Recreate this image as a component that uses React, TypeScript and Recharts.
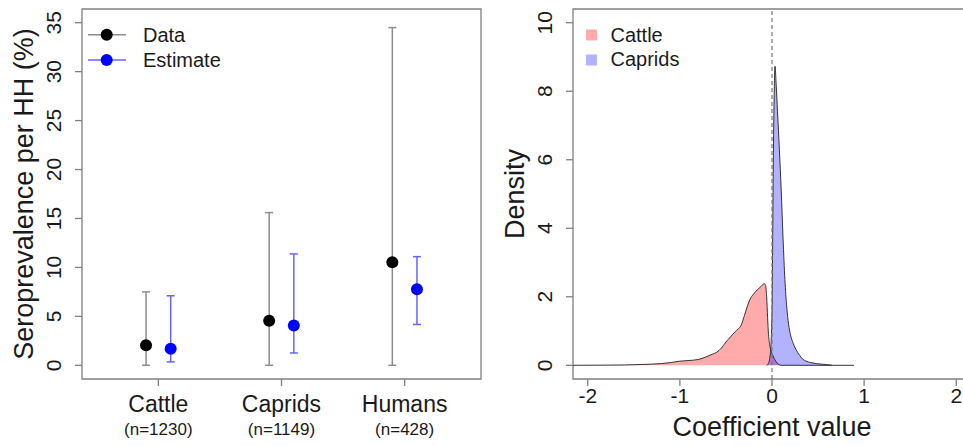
import React from 'react';
import {
  ComposedChart,
  Scatter,
  ErrorBar,
  Area,
  XAxis,
  YAxis,
  ReferenceArea,
  ReferenceLine,
  Label,
} from 'recharts';

const FONT = '"Liberation Sans", Arial, Helvetica, sans-serif';
const TEXT = '#1a1a1a';
const FRAME = '#808080';

// ---- left panel: seroprevalence per household ----
const groups = ['Cattle', 'Caprids', 'Humans'];
const groupN = ['(n=1230)', '(n=1149)', '(n=428)'];
const dataMean = [2.05, 4.55, 10.53];
const dataLow = [0, 0, 0];
const dataHigh = [7.5, 15.6, 34.5];
const estMean = [1.7, 4.07, 7.76];
const estLow = [0.35, 1.26, 4.17];
const estHigh = [7.1, 11.38, 11.1];
const leftYTicks = [0, 5, 10, 15, 20, 25, 30, 35];

// ---- right panel: posterior density of the coefficient ----
const cattleX = [
  -2.16, -1.8, -1.6, -1.4, -1.2, -1.1, -1.0, -0.9, -0.8, -0.72, -0.65, -0.6, -0.55, -0.5,
  -0.45, -0.4, -0.37, -0.33, -0.3, -0.27, -0.24, -0.2, -0.16, -0.12, -0.085, -0.07, -0.058,
  -0.048, -0.038, -0.025, -0.01, 0.01, 0.04, 0.07, 0.1, 0.5, 0.89,
];
const cattleDensity = [
  0, 0.005, 0.01, 0.025, 0.05, 0.08, 0.12, 0.14, 0.17, 0.24, 0.32, 0.38, 0.5, 0.68,
  0.83, 0.98, 1.05, 1.2, 1.45, 1.7, 1.92, 2.08, 2.2, 2.3, 2.38, 2.33, 2.0,
  1.4, 0.9, 0.6, 0.42, 0.28, 0.12, 0.03, 0, 0, 0,
];
const capridX = [
  -0.06, -0.04, -0.02, 0, 0.006, 0.013, 0.022, 0.033, 0.045, 0.06, 0.08, 0.1, 0.12, 0.14,
  0.16, 0.18, 0.2, 0.23, 0.26, 0.3, 0.33, 0.37, 0.42, 0.48, 0.55, 0.6, 0.65,
];
const capridDensity = [
  0, 0.05, 0.3, 1.5, 3.2, 5.6, 7.6, 8.73, 8.2, 7.4, 6.3, 5.1, 3.7, 2.5,
  1.7, 1.2, 0.9, 0.64, 0.46, 0.29, 0.19, 0.12, 0.08, 0.05, 0.03, 0.02, 0,
];
const rightXTicks = [-2, -1, 0, 1, 2];
const rightYTicks = [0, 2, 4, 6, 8, 10];

const dataPoints = groups.map((g, i) => ({
  x: i + 1 - 0.1,
  y: dataMean[i],
  err: [dataMean[i] - dataLow[i], dataHigh[i] - dataMean[i]],
}));
const estPoints = groups.map((g, i) => ({
  x: i + 1 + 0.1,
  y: estMean[i],
  err: [estMean[i] - estLow[i], estHigh[i] - estMean[i]],
}));

type Row = { x: number; cattle?: number; caprids?: number };
const densityRows: Row[] = (() => {
  const m = new Map<number, Row>();
  cattleX.forEach((x, i) => {
    const r = m.get(x) ?? { x };
    r.cattle = cattleDensity[i];
    m.set(x, r);
  });
  capridX.forEach((x, i) => {
    const r = m.get(x) ?? { x };
    r.caprids = capridDensity[i];
    m.set(x, r);
  });
  return [...m.values()].sort((a, b) => a.x - b.x);
})();

const RotatedYTick = (props: any) => {
  const { x, y, payload } = props;
  const cx = x - 19;
  return (
    <text
      x={cx}
      y={y}
      transform={`rotate(-90 ${cx} ${y})`}
      textAnchor="middle"
      dominantBaseline="central"
      fontSize={21}
      fontFamily={FONT}
      fill={TEXT}
    >
      {payload.value}
    </text>
  );
};

const GroupTick = (props: any) => {
  const { x, y, payload } = props;
  const i = Math.round(payload.value) - 1;
  return (
    <g fontFamily={FONT} fill={TEXT}>
      <text x={x} y={y + 24} textAnchor="middle" fontSize={23}>{groups[i]}</text>
      <text x={x} y={y + 47} textAnchor="middle" fontSize={17}>{groupN[i]}</text>
    </g>
  );
};

const NumberTick = (props: any) => {
  const { x, y, payload } = props;
  return (
    <text x={x} y={y + 15} textAnchor="middle" fontSize={21} fontFamily={FONT} fill={TEXT}>
      {payload.value}
    </text>
  );
};

const yTitle = (text: string) => (props: any) => {
  const vb = props.viewBox || { x: 0, y: 9, width: 82, height: 370 };
  const bx = vb.x + vb.width - 49;
  const cy = vb.y + vb.height / 2;
  return (
    <text
      x={bx}
      y={cy}
      transform={`rotate(-90 ${bx} ${cy})`}
      textAnchor="middle"
      fontSize={27}
      fontFamily={FONT}
      fill={TEXT}
    >
      {text}
    </text>
  );
};

const xTitle = (text: string) => (props: any) => {
  const vb = props.viewBox || { x: 93, y: 379, width: 398, height: 67 };
  return (
    <text
      x={vb.x + vb.width / 2}
      y={vb.y + 57}
      textAnchor="middle"
      fontSize={27}
      fontFamily={FONT}
      fill={TEXT}
    >
      {text}
    </text>
  );
};

const dot = (color: string) => (props: any) =>
  <circle cx={props.cx} cy={props.cy} r={6} fill={color} />;

const Legends = () => (
  <svg
    width={963}
    height={446}
    style={{ position: 'absolute', left: 0, top: 0, pointerEvents: 'none' }}
    fontFamily={FONT}
  >
    <line x1={88} x2={126} y1={34.7} y2={34.7} stroke="#8c8c8c" strokeWidth={1.5} />
    <circle cx={106.7} cy={34.7} r={6} fill="#000" />
    <line x1={88} x2={126} y1={60} y2={60} stroke="#6464ff" strokeWidth={1.5} />
    <circle cx={106.7} cy={60} r={6} fill="#0000ff" />
    <text x={143} y={41.7} fontSize={20} fill={TEXT}>Data</text>
    <text x={143} y={67} fontSize={20} fill={TEXT}>Estimate</text>

    <rect x={586} y={29.5} width={11} height={11} fill="#ff0000" fillOpacity={0.33} />
    <rect x={586} y={54.5} width={11} height={11} fill="#0000ff" fillOpacity={0.3} />
    <text x={610.5} y={41.5} fontSize={20} fill={TEXT}>Cattle</text>
    <text x={610.5} y={66} fontSize={20} fill={TEXT}>Caprids</text>
  </svg>
);

export default function App() {
  return (
    <div
      style={{
        position: 'fixed',
        left: 0,
        top: 0,
        width: 963,
        height: 446,
        overflow: 'hidden',
        background: '#fff',
      }}
    >
      <div style={{ position: 'absolute', left: 0, top: 0 }}>
        <ComposedChart width={485} height={446} margin={{ top: 9, right: 4, bottom: 0, left: 0 }}>
          <XAxis
            type="number"
            dataKey="x"
            domain={[0.38, 3.62]}
            ticks={[1, 2, 3]}
            allowDataOverflow
            axisLine={false}
            tickSize={7}
            tickLine={{ stroke: FRAME, strokeWidth: 1.3 }}
            tick={GroupTick}
            interval={0}
            height={67}
          />
          <YAxis
            type="number"
            dataKey="y"
            domain={[-1.4, 36.4]}
            ticks={leftYTicks}
            allowDataOverflow
            axisLine={false}
            tickSize={7}
            tickLine={{ stroke: FRAME, strokeWidth: 1.3 }}
            tick={RotatedYTick}
            interval={0}
            width={82}
          >
            <Label content={yTitle('Seroprevalence per HH (%)')} />
          </YAxis>
          <ReferenceArea
            x1={0.38}
            x2={3.62}
            y1={-1.4}
            y2={36.4}
            fill="none"
            stroke={FRAME}
            strokeWidth={1.3}
            ifOverflow="visible"
          />
          <Scatter data={dataPoints} shape={dot('#000000')} isAnimationActive={false}>
            <ErrorBar dataKey="err" direction="y" width={4} stroke="#8c8c8c" strokeWidth={1.5} />
          </Scatter>
          <Scatter data={estPoints} shape={dot('#0000ff')} isAnimationActive={false}>
            <ErrorBar dataKey="err" direction="y" width={4} stroke="#6464ff" strokeWidth={1.5} />
          </Scatter>
        </ComposedChart>
      </div>

      <div style={{ position: 'absolute', left: 480, top: 0 }}>
        <ComposedChart
          width={494}
          height={446}
          data={densityRows}
          margin={{ top: 9, right: 3, bottom: 0, left: 0 }}
        >
          <XAxis
            type="number"
            dataKey="x"
            domain={[-2.16, 2.16]}
            ticks={rightXTicks}
            allowDataOverflow
            axisLine={false}
            tickSize={7}
            tickLine={{ stroke: FRAME, strokeWidth: 1.3 }}
            tick={NumberTick}
            interval={0}
            height={67}
          >
            <Label content={xTitle('Coefficient value')} />
          </XAxis>
          <YAxis
            type="number"
            domain={[-0.4, 10.4]}
            ticks={rightYTicks}
            allowDataOverflow
            axisLine={false}
            tickSize={7}
            tickLine={{ stroke: FRAME, strokeWidth: 1.3 }}
            tick={RotatedYTick}
            interval={0}
            width={93}
          >
            <Label content={yTitle('Density')} />
          </YAxis>
          <ReferenceArea
            x1={-2.16}
            x2={2.16}
            y1={-0.4}
            y2={10.4}
            fill="none"
            stroke={FRAME}
            strokeWidth={1.3}
            ifOverflow="visible"
          />
          <Area
            dataKey="cattle"
            type="monotone"
            baseValue={0}
            connectNulls
            fill="#ff0000"
            fillOpacity={0.33}
            stroke="#333"
            strokeWidth={1}
            dot={false}
            activeDot={false}
            isAnimationActive={false}
          />
          <Area
            dataKey="caprids"
            type="monotone"
            baseValue={0}
            connectNulls
            fill="#0000ff"
            fillOpacity={0.3}
            stroke="#333"
            strokeWidth={1}
            dot={false}
            activeDot={false}
            isAnimationActive={false}
          />
          <ReferenceLine x={0} stroke="#777" strokeWidth={1.2} strokeDasharray="4 3" ifOverflow="visible" />
        </ComposedChart>
      </div>

      <Legends />
    </div>
  );
}
